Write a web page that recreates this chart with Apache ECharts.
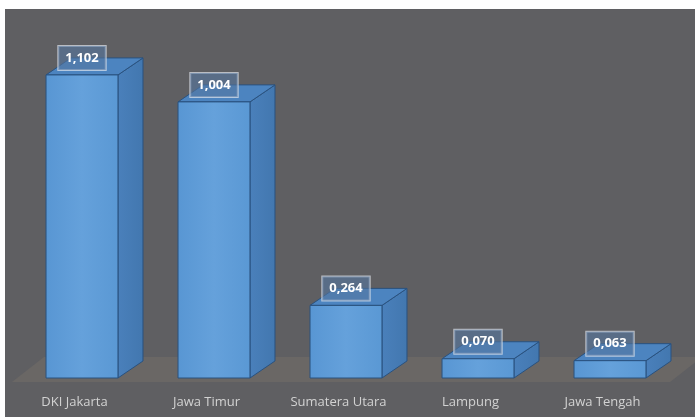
<!DOCTYPE html>
<html>
<head>
<meta charset="utf-8">
<script src="https://cdn.jsdelivr.net/npm/echarts@6/dist/echarts.min.js"></script>
<style>
html,body{margin:0;padding:0;background:#ffffff;}
#c{width:696px;height:419px;}
</style>
</head>
<body>
<div id="c"></div>
<script>
var categories = ['DKI Jakarta', 'Jawa Timur', 'Sumatera Utara', 'Lampung', 'Jawa Tengah'];
var values = [1.102, 1.004, 0.264, 0.070, 0.063];
var valueLabels = ['1,102', '1,004', '0,264', '0,070', '0,063'];

var DX = 25, DY = -17;

function renderBar(params, api) {
  var idx = api.value(0);
  var v = api.value(1);
  var topPt = api.coord([idx, v]);
  var basePt = api.coord([idx, 0]);
  var band = api.size([1, 0])[0];
  var w = band * 0.545;
  var x0 = topPt[0] - w / 2, x1 = topPt[0] + w / 2;
  var top = topPt[1], bottom = basePt[1];
  var stroke = '#2a527f';
  return {
    type: 'group',
    children: [
      {
        type: 'polygon',
        shape: { points: [[x1, top], [x1 + DX, top + DY], [x1 + DX, bottom + DY], [x1, bottom]] },
        style: { fill: new echarts.graphic.LinearGradient(0, 0, 1, 0, [
          { offset: 0, color: '#4a80bb' }, { offset: 1, color: '#4277af' }]), stroke: stroke, lineWidth: 1 }
      },
      {
        type: 'polygon',
        shape: { points: [[x0, top], [x0 + DX, top + DY], [x1 + DX, top + DY], [x1, top]] },
        style: { fill: '#4c84c0', stroke: stroke, lineWidth: 1 }
      },
      {
        type: 'rect',
        shape: { x: x0, y: top, width: w, height: bottom - top },
        style: { fill: new echarts.graphic.LinearGradient(0, 0, 1, 0, [
          { offset: 0, color: '#5896d3' }, { offset: 0.5, color: '#65a1db' }, { offset: 1, color: '#5a98d4' }]),
          stroke: stroke, lineWidth: 1 }
      },
      {
        type: 'text',
        z2: 100,
        style: {
          x: topPt[0], y: top + DY,
          text: valueLabels[params.dataIndex],
          fill: '#ffffff',
          font: 'bold 13px "Open Sans", sans-serif',
          align: 'center', verticalAlign: 'middle',
          backgroundColor: 'rgba(85,118,160,0.6)',
          borderColor: 'rgba(225,230,236,0.7)', borderWidth: 1,
          padding: [4, 7, 4, 7], lineHeight: 16
        }
      }
    ]
  };
}

function renderFloor(params, api) {
  var cs = params.coordSys;
  var by = cs.y + cs.height + 4;
  var lx = cs.x - 4, rx = cs.x + cs.width - 6;
  var fdx = 32, fdy = -25;
  var edge = api.getWidth() - 1;
  var yAtEdge = by + (edge - rx) * fdy / fdx;
  return {
    type: 'polygon',
    shape: { points: [[lx, by], [lx + fdx, by + fdy], [edge, by + fdy], [edge, yAtEdge], [rx, by]] },
    style: { fill: '#6a6765' }
  };
}

var chart = echarts.init(document.getElementById('c'));
chart.setOption({
  animation: false,
  graphic: [{ type: 'rect', left: 5, top: 9, shape: { width: 690, height: 408 }, style: { fill: '#5f5f62' }, z: -10 }],
  grid: { left: 16, right: 20, top: 48, bottom: 41 },
  xAxis: {
    type: 'category', data: categories,
    axisLine: { show: false }, axisTick: { show: false },
    axisLabel: { color: '#d2d2d2', fontSize: 13, fontFamily: '"Open Sans", sans-serif', margin: 18,
      padding: [0, 15, 0, 0] }
  },
  yAxis: { type: 'value', min: 0, max: 1.2, show: false, splitLine: { show: false } },
  series: [
    { type: 'custom', renderItem: renderFloor, data: [[0, 0]], z: 1, silent: true },
    { type: 'custom', renderItem: renderBar, data: values.map(function (v, i) { return [i, v]; }), z: 2 }
  ]
});
</script>
</body>
</html>
